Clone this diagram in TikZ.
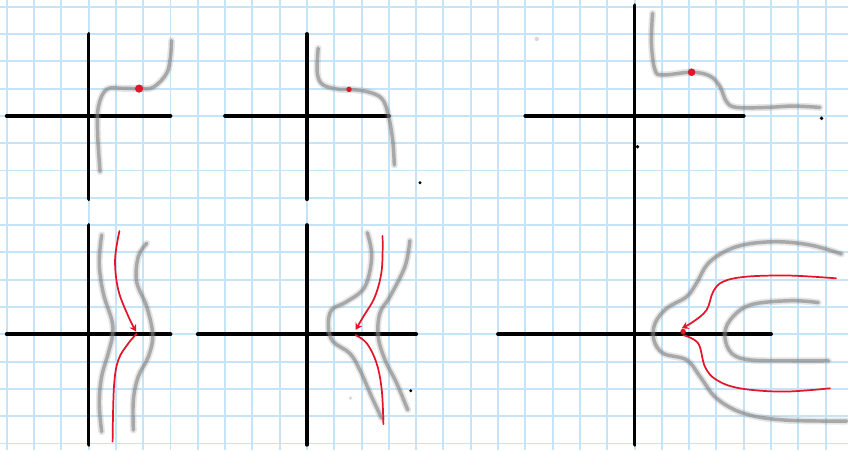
\documentclass[tikz,border=0pt]{standalone}
\usepackage{tikz}
\usetikzlibrary{arrows.meta}

\definecolor{gridblue}{RGB}{198,228,248}
\definecolor{sketchred}{RGB}{230,20,40}

\begin{document}
\begin{tikzpicture}[x=0.5cm, y=0.5cm,
  gridline/.style={gridblue, line width=1pt},
  axis/.style={black, line width=2pt, line cap=round},
  level/.style={preaction={draw, gray, opacity=0.2, line width=3.6pt, line cap=round},
    draw=gray, opacity=0.6, line width=1.8pt, line cap=round, line join=round},
  flow/.style={sketchred, line width=0.9pt, line cap=round},
  inflow/.style={flow, -{Stealth[length=3.5pt, width=4pt]}},
  crit/.style={fill=sketchred},
  speck/.style={fill=black}
]
% paper
\fill[white] (-0.245,0.245) rectangle (30.82,-16.24);
\useasboundingbox (-0.245,0.245) rectangle (30.82,-16.24);
\foreach \x in {0,...,30}
  \draw[gridline] (\x,0.245) -- (\x,-16.24);
\foreach \y in {0,...,16}
  \draw[gridline] (-0.245,-\y) -- (30.82,-\y);

% axes, top row
\draw[axis] (0,-4) -- (6,-4);
\draw[axis] (3,-1) -- (3,-7.05);
\draw[axis] (8,-4) -- (14,-4);
\draw[axis] (11,-1) -- (11,-7.05);
\draw[axis] (19,-4) -- (27,-4);
% axes, bottom row
\draw[axis] (0,-12) -- (6,-12);
\draw[axis] (3,-8) -- (3,-16.05);
\draw[axis] (7,-12) -- (15,-12);
\draw[axis] (11,-8) -- (11,-16.05);
\draw[axis] (18,-12) -- (28,-12);
\draw[axis] (23,0.05) -- (23,-16.05);

% top left
\draw[level] plot[smooth, tension=0.6] coordinates {(3.42,-6.04) (3.33,-4.64) (3.36,-3.66) (3.66,-3.03)
  (4.27,-2.99) (4.85,-3.0) (5.37,-2.95) (5.86,-2.44) (6.0,-1.83) (6.04,-1.24)};
\fill[crit] (4.85,-3.0) circle (0.15);

% top middle
\draw[level] plot[smooth, tension=0.6] coordinates {(11.41,-1.52) (11.38,-2.44) (11.6,-2.87) (12.21,-3.03)
  (12.54,-3.03) (13.19,-3.11) (13.74,-3.36) (13.98,-3.97) (14.14,-4.88) (14.2,-5.8)};
\fill[crit] (12.54,-3.03) circle (0.1);
\fill[speck] (15.14,-6.45) circle (0.06);

% top right
\draw[level] plot[smooth, tension=0.6] coordinates {(23.66,-0.24) (23.62,-1.34) (23.75,-2.32) (24.05,-2.5)
  (25.09,-2.4) (25.76,-2.54) (26.13,-2.93) (26.37,-3.48) (26.74,-3.69) (27.84,-3.69)
  (28.81,-3.64) (29.79,-3.69)};
\fill[crit] (25.09,-2.4) circle (0.14);
\fill[speck] (29.85,-4.09) circle (0.07);
\fill[speck] (23.11,-5.13) circle (0.07);
\fill[gray!30] (19.42,-1.18) circle (0.08);

% bottom left
\draw[level] plot[smooth, tension=0.6] coordinates {(3.48,-8.36) (3.39,-9.4) (3.54,-10.5) (3.85,-11.48)
  (3.88,-12.03) (3.72,-12.7) (3.48,-13.55) (3.39,-14.53) (3.48,-15.57)};
\draw[level] plot[smooth, tension=0.6] coordinates {(5.13,-8.67) (4.82,-9.16) (4.76,-10.07) (5.13,-10.99)
  (5.35,-12.03) (5.19,-12.82) (4.82,-13.55) (4.64,-14.41) (4.64,-15.51)};
\draw[inflow] plot[smooth, tension=0.6] coordinates {(4.13,-8.22) (3.97,-9.28) (4.09,-10.38) (4.46,-11.35)
  (4.74,-11.9)};
\draw[flow] plot[smooth, tension=0.6] coordinates {(4.76,-11.98) (4.46,-12.33) (4.09,-12.94) (3.93,-13.92)
  (3.88,-15.93)};

% bottom middle
\draw[level] plot[smooth, tension=0.6] coordinates {(13.21,-8.28) (13.37,-9.16) (13.12,-10.26) (12.45,-10.81)
  (11.9,-11.11) (11.78,-11.72) (11.96,-12.27) (12.57,-12.7) (12.94,-13.31) (13.37,-14.29)
  (13.74,-15.08)};
\draw[level] plot[smooth, tension=0.6] coordinates {(14.77,-8.57) (14.59,-9.52) (14.04,-10.62) (13.67,-11.23)
  (13.61,-12.09) (13.86,-12.94) (14.29,-13.8) (14.69,-14.77)};
\draw[inflow] plot[smooth, tension=0.6] coordinates {(13.77,-8.4) (13.74,-9.64) (13.49,-10.62) (13.06,-11.36)
  (12.78,-11.84)};
\draw[flow] plot[smooth, tension=0.6] coordinates {(12.78,-12.03) (13.19,-12.33) (13.55,-13.06) (13.74,-14.04)
  (13.8,-15.29)};
\fill[speck] (14.8,-14.07) circle (0.06);
\fill[gray!30] (12.6,-14.34) circle (0.07);

% bottom right
\draw[level] plot[smooth, tension=0.6] coordinates {(30.58,-9.06) (29.43,-8.73) (28.08,-8.61) (26.74,-8.79)
  (25.76,-9.34) (25.27,-10.13) (24.91,-10.62) (24.18,-11.05) (23.75,-11.6) (23.71,-12.21)
  (24.05,-12.7) (24.91,-12.94) (25.4,-13.55) (26.0,-14.34) (26.98,-14.89) (28.45,-15.14)
  (30.77,-15.18)};
\draw[level] plot[smooth, tension=0.6] coordinates {(29.73,-10.84) (28.69,-10.77) (27.23,-10.93) (26.5,-11.48)
  (26.31,-12.09) (26.56,-12.7) (27.23,-12.94) (28.69,-12.97) (30.1,-12.97)};
\draw[inflow] plot[smooth, tension=0.6] coordinates {(30.38,-9.95) (28.69,-9.85) (27.1,-9.89) (26.25,-10.07)
  (25.88,-10.44) (25.64,-11.11) (25.15,-11.54) (24.73,-11.78)};
\draw[flow] plot[smooth, tension=0.6] coordinates {(24.78,-12.03) (25.33,-12.33) (25.58,-13.19) (26.0,-13.67)
  (26.86,-13.98) (28.45,-14.1) (30.16,-13.98)};
\fill[crit] (24.78,-11.9) circle (0.1);
\end{tikzpicture}
\end{document}
